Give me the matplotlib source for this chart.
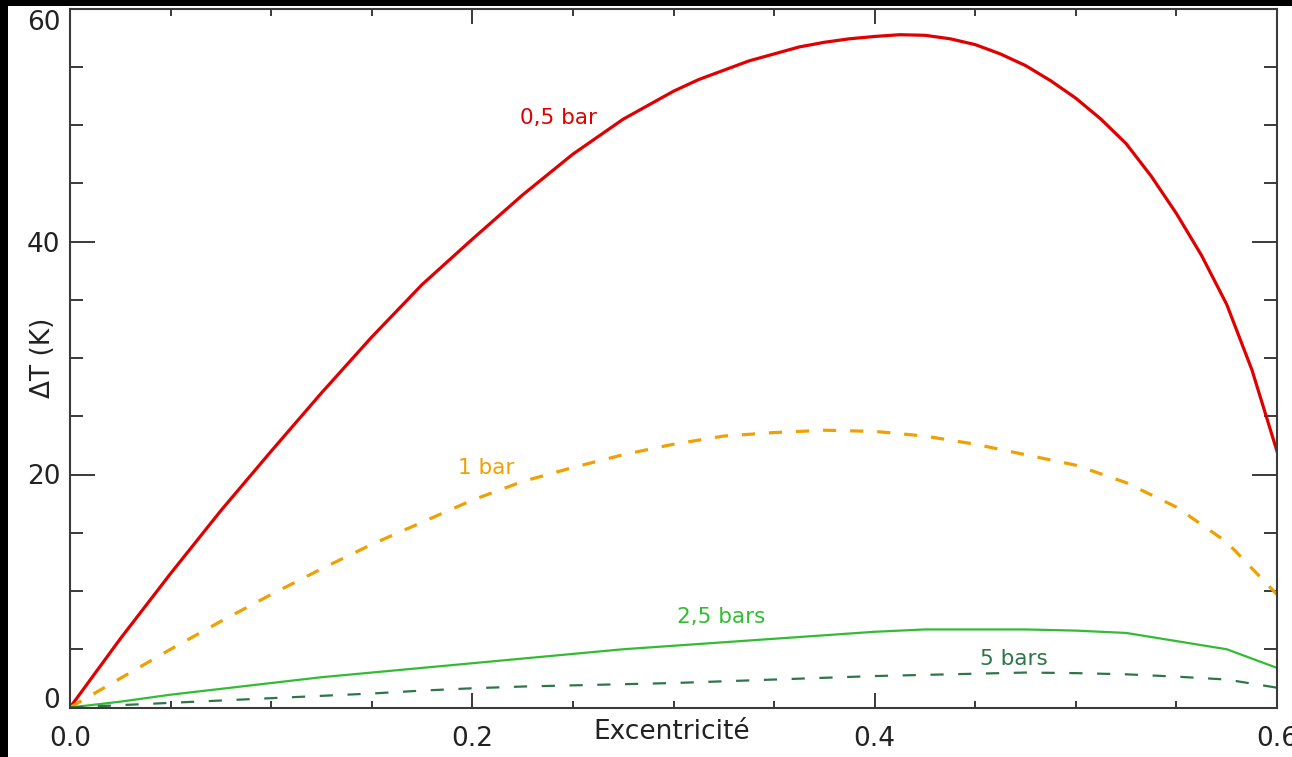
"""temperature contrast vs eccentricity for several surface pressures"""

import matplotlib
matplotlib.use("Agg")
import matplotlib.pyplot as plt
from matplotlib.patches import Rectangle
from matplotlib.ticker import MultipleLocator
from matplotlib.transforms import ScaledTranslation

# eccentricity grid
excentricite = [0.0, 0.025, 0.05, 0.075, 0.1, 0.125, 0.15, 0.175, 0.2, 0.225,
                0.25, 0.275, 0.3, 0.325, 0.35, 0.375, 0.4, 0.425, 0.45, 0.475,
                0.5, 0.525, 0.55, 0.575, 0.6]

# the 0.5 bar curve is read more finely, it bends a lot near the end
excentricite_05 = [0.0, 0.025, 0.05, 0.075, 0.1, 0.125, 0.15, 0.175, 0.2,
                   0.225, 0.25, 0.275, 0.3, 0.3125, 0.325, 0.3375, 0.35,
                   0.3625, 0.375, 0.3875, 0.4, 0.4125, 0.425, 0.4375, 0.45,
                   0.4625, 0.475, 0.4875, 0.5, 0.5125, 0.525, 0.5375, 0.55,
                   0.5625, 0.575, 0.5875, 0.6]

# delta T (K)
dt_05bar = [0.0, 5.9, 11.5, 16.9, 22.0, 27.0, 31.8, 36.3, 40.2,
            44.0, 47.5, 50.5, 52.9, 53.9, 54.7, 55.5, 56.1,
            56.7, 57.1, 57.4, 57.6, 57.75, 57.7, 57.4, 56.9,
            56.1, 55.1, 53.8, 52.3, 50.5, 48.4, 45.6, 42.4,
            38.8, 34.6, 29.0, 22.0]
dt_1bar = [0.0, 2.5, 5.0, 7.4, 9.7, 11.9, 14.0, 15.9, 17.8, 19.4,
           20.6, 21.7, 22.6, 23.3, 23.6, 23.8, 23.7, 23.3, 22.6, 21.7,
           20.8, 19.3, 17.2, 14.2, 9.7]
dt_25bar = [0.0, 0.5, 1.1, 1.6, 2.1, 2.6, 3.0, 3.4, 3.8, 4.2,
            4.6, 5.0, 5.3, 5.6, 5.9, 6.2, 6.5, 6.7, 6.7, 6.7,
            6.6, 6.4, 5.7, 5.0, 3.4]
dt_5bar = [0.0, 0.2, 0.4, 0.6, 0.8, 1.0, 1.2, 1.45, 1.65, 1.8,
           1.9, 2.0, 2.1, 2.25, 2.4, 2.55, 2.7, 2.8, 2.9, 3.0,
           2.95, 2.85, 2.65, 2.4, 1.7]

labels = ["0,5 bar", "1 bar", "2,5 bars", "5 bars"]
label_pos = [(0.2426, 50.6), (0.2068, 20.6), (0.3236, 7.8), (0.469, 4.2)]

xticks = [0.0, 0.2, 0.4, 0.6]
xticklabels = ["0.0", "0.2", "0.4", "0.6"]
yticks = [0, 20, 40, 60]

plt.rcParams["font.family"] = ["DejaVu Sans"]
plt.rcParams["lines.scale_dashes"] = False

fig = plt.figure(figsize=(12.92, 7.57), dpi=100, facecolor="black")
# white panel, black border on the left and top
fig.patches.append(Rectangle((8 / 1292, 0), 1, 1 - 6 / 757,
                             transform=fig.transFigure, facecolor="white",
                             edgecolor="none", zorder=-1))

ax = fig.add_axes([70 / 1292, 1 - 707.5 / 757, 1207 / 1292, 699 / 757])
ax.set_facecolor("white")

colors = ["#e00000", "#f0a000", "#33bb33", "#2e7549"]

ax.plot(excentricite_05, dt_05bar, color=colors[0], lw=2.3)
ax.plot(excentricite, dt_1bar, color=colors[1], lw=2.3, dashes=(9.5, 10))
ax.plot(excentricite, dt_25bar, color=colors[2], lw=1.6)
ax.plot(excentricite, dt_5bar, color=colors[3], lw=1.6, dashes=(9.5, 10.5))

for lab, (x, y), c in zip(labels, label_pos, colors):
    ax.text(x, y, lab, color=c, fontsize=15.5, ha="center", va="center")

ax.set_xlim(0, 0.6)
ax.set_ylim(0, 60)

ax.set_xticks(xticks)
ax.set_xticklabels(xticklabels)
ax.set_yticks(yticks)
ax.xaxis.set_minor_locator(MultipleLocator(0.05))
ax.yaxis.set_minor_locator(MultipleLocator(5))

axcol = "#3a3a3a"
for sp in ax.spines.values():
    sp.set_color(axcol)
    sp.set_linewidth(1.5)

ax.tick_params(axis="x", which="major", direction="in", length=10.8, width=1.4,
               top=True, bottom=True, color=axcol, labelsize=19, pad=13,
               labelcolor="#222222")
ax.tick_params(axis="x", which="minor", direction="in", length=5, width=1.4,
               top=True, bottom=True, color=axcol)
ax.tick_params(axis="y", which="major", direction="in", length=18, width=1.4,
               left=True, right=True, color=axcol, labelsize=19, pad=7,
               labelcolor="#222222")
ax.tick_params(axis="y", which="minor", direction="in", length=9.4, width=1.4,
               left=True, right=True, color=axcol)

# first and last y labels are pulled inside the frame
ylabs = ax.get_yticklabels()
ylabs[0].set_transform(ylabs[0].get_transform()
                       + ScaledTranslation(0, 10 / 100, fig.dpi_scale_trans))
ylabs[-1].set_transform(ylabs[-1].get_transform()
                        + ScaledTranslation(0, -12 / 100, fig.dpi_scale_trans))

ax.set_xlabel("Excentricité", fontsize=19, color="#222222")
ax.xaxis.set_label_coords((672 - 70) / 1207, -(719 - 707.5) / 699)
ax.set_ylabel("ΔT (K)", fontsize=19, color="#222222", va="center")
ax.yaxis.set_label_coords(-(70 - 43) / 1207, 0.5)

fig.savefig("out.png", dpi=100, facecolor=fig.get_facecolor())
